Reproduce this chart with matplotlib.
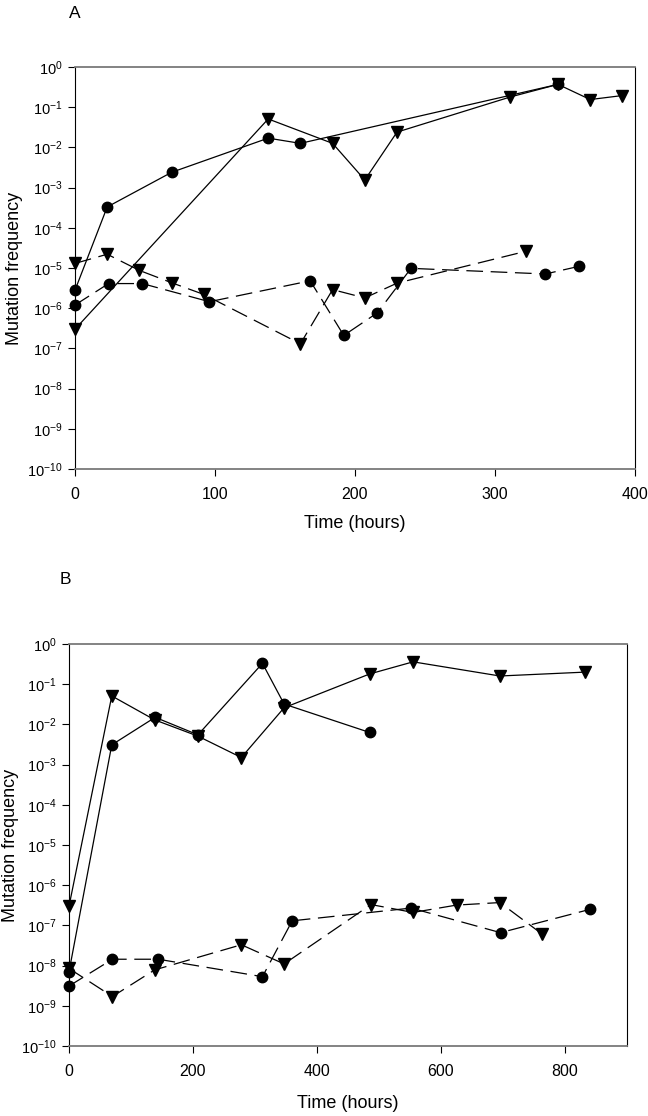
import matplotlib
matplotlib.use('Agg')
import matplotlib.pyplot as plt
from matplotlib.ticker import FixedLocator, FixedFormatter, NullLocator

plt.rcParams['font.family'] = ['Liberation Sans', 'DejaVu Sans']
plt.rcParams['lines.scale_dashes'] = False

# ---------------- Panel A data ----------------
a_circ_solid_t = [0, 23, 69, 138, 161, 345]
a_circ_solid_y = [2.8e-6, 3.3e-4, 2.4e-3, 1.7e-2, 1.26e-2, 0.37]

a_tri_solid_t = [0, 138, 184, 207, 230, 311, 345, 368, 391]
a_tri_solid_y = [3.0e-7, 0.051, 0.0126, 1.55e-3, 0.024, 0.18, 0.37, 0.155, 0.195]

a_tri_dash_t = [0, 23, 46, 69, 92, 161, 184, 207, 230, 322]
a_tri_dash_y = [1.3e-5, 2.2e-5, 8.7e-6, 4.3e-6, 2.2e-6, 1.3e-7, 2.9e-6, 1.8e-6, 4.2e-6, 2.6e-5]

a_circ_dash_t = [0, 24, 48, 96, 168, 192, 216, 240, 336, 360]
a_circ_dash_y = [1.2e-6, 4.1e-6, 4.1e-6, 1.45e-6, 4.8e-6, 2.1e-7, 7.7e-7, 9.8e-6, 7.1e-6, 1.1e-5]

# ---------------- Panel B data ----------------
b_tri_solid_t = [0, 69, 138, 208, 278, 347, 485, 555, 695, 833]
b_tri_solid_y = [3.0e-7, 0.051, 0.013, 5.1e-3, 1.5e-3, 0.026, 0.18, 0.36, 0.16, 0.2]

b_circ_solid_t = [0, 69, 139, 208, 312, 347, 485]
b_circ_solid_y = [7.0e-9, 3.1e-3, 0.015, 5.5e-3, 0.33, 0.032, 6.3e-3]

b_tri_dash_t = [0, 70, 138, 278, 347, 487, 555, 625, 695, 763]
b_tri_dash_y = [8.5e-9, 1.7e-9, 7.8e-9, 3.3e-8, 1.1e-8, 3.3e-7, 2.1e-7, 3.2e-7, 3.7e-7, 6.1e-8]

b_circ_dash_t = [0, 70, 144, 312, 360, 552, 696, 840]
b_circ_dash_y = [3.1e-9, 1.44e-8, 1.44e-8, 5.3e-9, 1.3e-7, 2.7e-7, 6.6e-8, 2.5e-7]

ytick_exps = [0, -1, -2, -3, -4, -5, -6, -7, -8, -9, -10]
a_xticks = [0, 100, 200, 300, 400]
b_xticks = [0, 200, 400, 600, 800]

W, H = 648, 1116
fig = plt.figure(figsize=(W / 100, H / 100), dpi=100)
axA = fig.add_axes([75 / W, 1 - 469 / H, 560 / W, 402 / H])
axB = fig.add_axes([69 / W, 1 - 1046 / H, 558 / W, 402 / H])

DASH = (0, (12, 5.5))
LW = 0.9


def plot_series(ax, t, y, marker, ls, ms):
    ax.plot(t, y, color='black', lw=LW, linestyle=ls, marker=marker,
            markersize=ms, markerfacecolor='black', markeredgecolor='black',
            clip_on=False, zorder=3)


def style(ax, xticks, xmax, ylabel_x, xlabel_y):
    ax.set_yscale('log')
    ax.set_ylim(1e-10, 1)
    ax.set_xlim(0, xmax)
    yt = [10.0 ** e for e in ytick_exps]
    ax.yaxis.set_major_locator(FixedLocator(yt))
    ax.yaxis.set_major_formatter(FixedFormatter(
        [r'$\mathregular{10^{%d}}$' % e for e in ytick_exps]))
    ax.yaxis.set_minor_locator(NullLocator())
    ax.set_xticks(xticks)
    ax.set_xticklabels([str(v) for v in xticks])
    ax.tick_params(axis='y', direction='out', length=5, width=0.8,
                   labelsize=10.5, pad=4)
    ax.tick_params(axis='x', direction='out', length=5, width=0.8,
                   labelsize=11.5, pad=8)
    for s in ['top', 'bottom']:
        ax.spines[s].set_color('#7a7a7a')
        ax.spines[s].set_linewidth(1.3)
    for s in ['left', 'right']:
        ax.spines[s].set_color('black')
        ax.spines[s].set_linewidth(0.8)
    ax.set_ylabel('Mutation frequency', fontsize=13)
    ax.yaxis.set_label_coords(ylabel_x, 0.5)
    ax.set_xlabel('Time (hours)', fontsize=13)
    ax.xaxis.set_label_coords(0.5, xlabel_y)


plot_series(axA, a_circ_solid_t, a_circ_solid_y, 'o', '-', 7.5)
plot_series(axA, a_tri_solid_t, a_tri_solid_y, 'v', '-', 8)
plot_series(axA, a_tri_dash_t, a_tri_dash_y, 'v', DASH, 8)
plot_series(axA, a_circ_dash_t, a_circ_dash_y, 'o', DASH, 7.5)
style(axA, a_xticks, 400, -0.093, -0.115)

plot_series(axB, b_tri_solid_t, b_tri_solid_y, 'v', '-', 8)
plot_series(axB, b_circ_solid_t, b_circ_solid_y, 'o', '-', 7.5)
plot_series(axB, b_tri_dash_t, b_tri_dash_y, 'v', DASH, 8)
plot_series(axB, b_circ_dash_t, b_circ_dash_y, 'o', DASH, 7.5)
style(axB, b_xticks, 900, -0.09, -0.122)

fig.text(75 / W, 1 - 13 / H, 'A', fontsize=12.5, ha='center', va='center')
fig.text(65 / W, 1 - 580 / H, 'B', fontsize=12.5, ha='center', va='center')

fig.savefig('out.png', dpi=100)
